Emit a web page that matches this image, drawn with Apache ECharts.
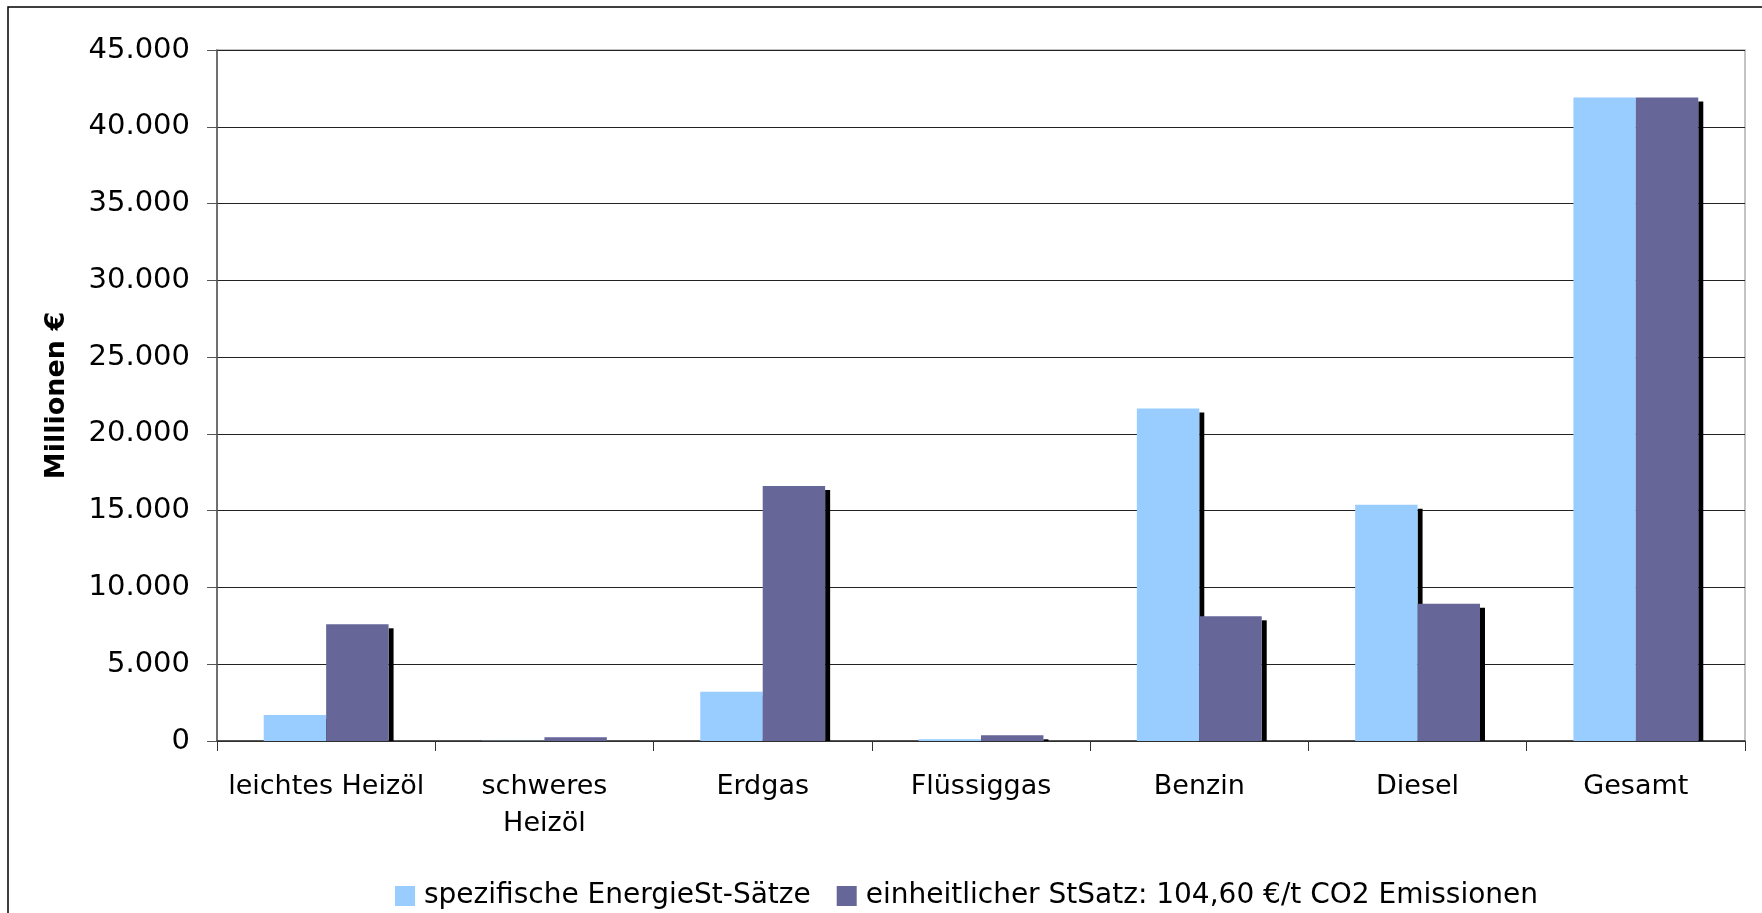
<!DOCTYPE html>
<html>
<head>
<meta charset="utf-8">
<script src="https://cdn.jsdelivr.net/npm/echarts@6/dist/echarts.min.js"></script>
<style>
  html, body { margin: 0; padding: 0; background: #fff; }
  #chart { width: 1762px; height: 913px; }
</style>
</head>
<body>
<div id="chart"></div>
<script>
const categories = ['leichtes Heizöl', 'schweres\nHeizöl', 'Erdgas', 'Flüssiggas', 'Benzin', 'Diesel', 'Gesamt']
const seriesNames = ['spezifische EnergieSt-Sätze', 'einheitlicher StSatz: 104,60 €/t CO2 Emissionen']
const spezifisch = [1700, 10, 3200, 110, 21650, 15380, 41900]
const einheitlich = [7600, 240, 16600, 370, 8120, 8930, 41900]
const yTicks = { min: 0, max: 45000, interval: 5000 }

const FONT = 'DejaVu Sans'
const BAR_RATIO = 0.286
const colors = ['#99CCFF', '#666699']

const fmt = (v) => String(v).replace(/\B(?=(\d{3})+(?!\d))/g, '.')

// black drop shadow right of each bar (offset 5px right, 4px down, stops at the axis)
function shadowSeries(values, idx) {
  return {
    type: 'custom',
    z: 1,
    silent: true,
    data: values.map((v, i) => [i, v]),
    renderItem: (params, api) => {
      const top = api.coord([api.value(0), api.value(1)])
      const base = api.coord([api.value(0), 0])
      const w = api.size([1, 0])[0] * BAR_RATIO
      const x = idx === 0 ? top[0] : top[0] + w
      const h = Math.max(0, base[1] - top[1] - 4)
      return {
        type: 'rect',
        shape: { x: x, y: top[1] + 4, width: 5, height: h },
        style: { fill: '#000' },
      }
    },
  }
}

const chart = echarts.init(document.getElementById('chart'))
chart.setOption({
  animation: false,
  textStyle: { fontFamily: FONT },
  graphic: [
    {
      type: 'rect',
      z: -10,
      shape: { x: 8, y: 7, width: 1800, height: 1000 },
      style: { fill: 'none', stroke: '#000', lineWidth: 1.5 },
    },
  ],
  grid: {
    left: 217,
    top: 50,
    width: 1528,
    height: 691,
    show: true,
    borderColor: '#b0b0b0',
    borderWidth: 1.5,
  },
  legend: {
    data: seriesNames,
    left: 390,
    top: 877,
    itemWidth: 20,
    itemHeight: 20,
    itemGap: 26,
    icon: 'rect',
    textStyle: { fontFamily: FONT, fontSize: 28, color: '#000', padding: [0, 0, 0, 4] },
  },
  xAxis: {
    type: 'category',
    data: categories,
    axisLine: { lineStyle: { color: '#333', width: 1.5 } },
    axisTick: { show: true, length: 10, lineStyle: { color: '#333' } },
    axisLabel: {
      interval: 0,
      fontFamily: FONT,
      fontSize: 27,
      color: '#000',
      margin: 27,
      lineHeight: 37,
    },
  },
  yAxis: {
    type: 'value',
    min: yTicks.min,
    max: yTicks.max,
    interval: yTicks.interval,
    name: 'Millionen €',
    nameLocation: 'middle',
    nameGap: 147,
    nameTextStyle: { fontFamily: FONT, fontSize: 27, fontWeight: 'bold', color: '#000' },
    axisLine: { show: true, lineStyle: { color: '#555', width: 1.5 } },
    axisTick: { show: true, length: 10, lineStyle: { color: '#555' } },
    axisLabel: {
      fontFamily: FONT,
      fontSize: 29,
      color: '#000',
      margin: 27,
      formatter: fmt,
    },
    splitLine: { lineStyle: { color: '#222', width: 1 } },
  },
  series: [
    shadowSeries(spezifisch, 0),
    shadowSeries(einheitlich, 1),
    {
      name: seriesNames[0],
      type: 'bar',
      z: 2,
      barWidth: BAR_RATIO * 100 + '%',
      barGap: '0%',
      itemStyle: { color: colors[0] },
      data: spezifisch,
    },
    {
      name: seriesNames[1],
      type: 'bar',
      z: 2,
      barWidth: BAR_RATIO * 100 + '%',
      barGap: '0%',
      itemStyle: { color: colors[1] },
      data: einheitlich,
    },
  ],
})
</script>
</body>
</html>
